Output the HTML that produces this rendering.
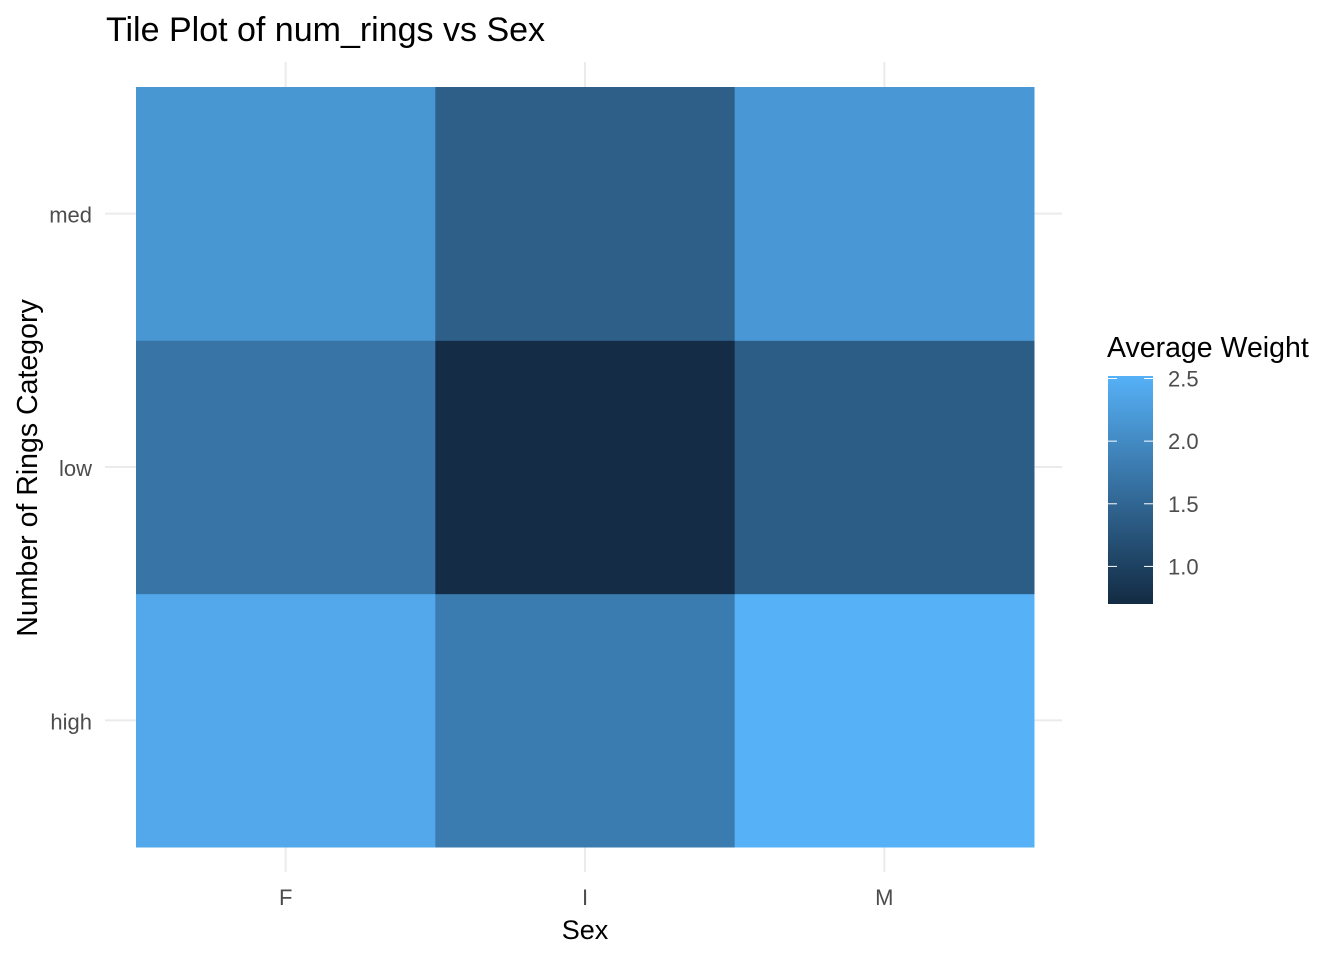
<!DOCTYPE html>
<html><head><meta charset="utf-8"><style>
body{margin:0;background:#fff;}
svg text{font-family:"Liberation Sans",Arial,sans-serif;}
</style></head><body>
<svg id="chart" width="1344" height="960" xmlns="http://www.w3.org/2000/svg">
<defs><linearGradient id="cbar" x1="0" y1="1" x2="0" y2="0">
<stop offset="0" stop-color="#132B43"/><stop offset="1" stop-color="#56B1F7"/></linearGradient></defs>
<g id="grid"></g>
<g id="tiles"></g>
<g id="axes"></g>
<text x="106" y="41" font-size="34" fill="#000">Tile Plot of num_rings vs Sex</text>
<text x="585" y="939" font-size="27" text-anchor="middle" fill="#000">Sex</text>
<text transform="translate(37,468) rotate(-90)" font-size="28.5" text-anchor="middle" fill="#000">Number of Rings Category</text>
<g>
<text x="1107" y="357" font-size="28.5" fill="#000">Average Weight</text>
<rect x="1108" y="376" width="45" height="228" fill="url(#cbar)"/>
<g id="legendTicks"></g>
</g>
</svg>
<script>
const xCats = ['F','I','M'];
const yCats = ['high','low','med'];
const values = [
 [2.40, 1.80, 2.52],
 [1.70, 0.72, 1.38],
 [2.15, 1.40, 2.17]
];
const legendTicks = [1.0, 1.5, 2.0, 2.5];
const vmin = 0.70, vmax = 2.52;

const NS='http://www.w3.org/2000/svg';
const px0=136, px1=1034, py0=87, py1=847;
const cw=(px1-px0)/xCats.length, ch=(py1-py0)/yCats.length;
const xScale=i=>px0+cw*i;
const yScale=j=>py1-ch*(j+1);
const lo=[0x13,0x2B,0x43], hi=[0x56,0xB1,0xF7];
function color(v){const t=Math.max(0,Math.min(1,(v-vmin)/(vmax-vmin)));
 return 'rgb('+lo.map((c,k)=>Math.round(c+(hi[k]-c)*t)).join(',')+')';}
function mk(tag,attrs,parent){const e=document.createElementNS(NS,tag);for(const k in attrs)e.setAttribute(k,attrs[k]);parent.appendChild(e);return e;}
const grid=document.getElementById('grid'), tiles=document.getElementById('tiles'), axes=document.getElementById('axes');
xCats.forEach((c,i)=>{
 const cx=xScale(i)+cw/2;
 const l=mk('line',{x1:cx,x2:cx,y1:62,y2:872,stroke:'#ebebeb','stroke-width':2},grid);
 
 
 const t=mk('text',{x:cx,y:905,'font-size':22,'text-anchor':'middle',fill:'#4d4d4d'},axes);
 t.textContent=c;
 
 
});
yCats.forEach((c,j)=>{
 const cy=yScale(j)+ch/2;
 const l=mk('line',{x1:105,x2:1062,y1:cy,y2:cy,stroke:'#ebebeb','stroke-width':2},grid);
 
 
 const t=mk('text',{x:92,y:cy+9,'font-size':22,'text-anchor':'end',fill:'#4d4d4d'},axes);
 t.textContent=c;
 
 
});
yCats.forEach((yc,j)=>xCats.forEach((xc,i)=>{
 const r=mk('rect',{x:xScale(i),y:yScale(j),width:cw+0.5,height:ch+0.5,fill:color(values[j][i])},tiles);
 
 
}));
const lt=document.getElementById('legendTicks');
const ly=v=>604-(v-vmin)/(vmax-vmin)*228;
legendTicks.forEach(v=>{
 const y=ly(v);
 mk('line',{x1:1108,x2:1117,y1:y,y2:y,stroke:'#fff','stroke-width':1},lt);
 mk('line',{x1:1144,x2:1153,y1:y,y2:y,stroke:'#fff','stroke-width':1},lt);
 const t=mk('text',{x:1168,y:y+8,'font-size':22,fill:'#4d4d4d'},lt);
 t.textContent=v.toFixed(1);
 
 
});
</script>
</body></html>
